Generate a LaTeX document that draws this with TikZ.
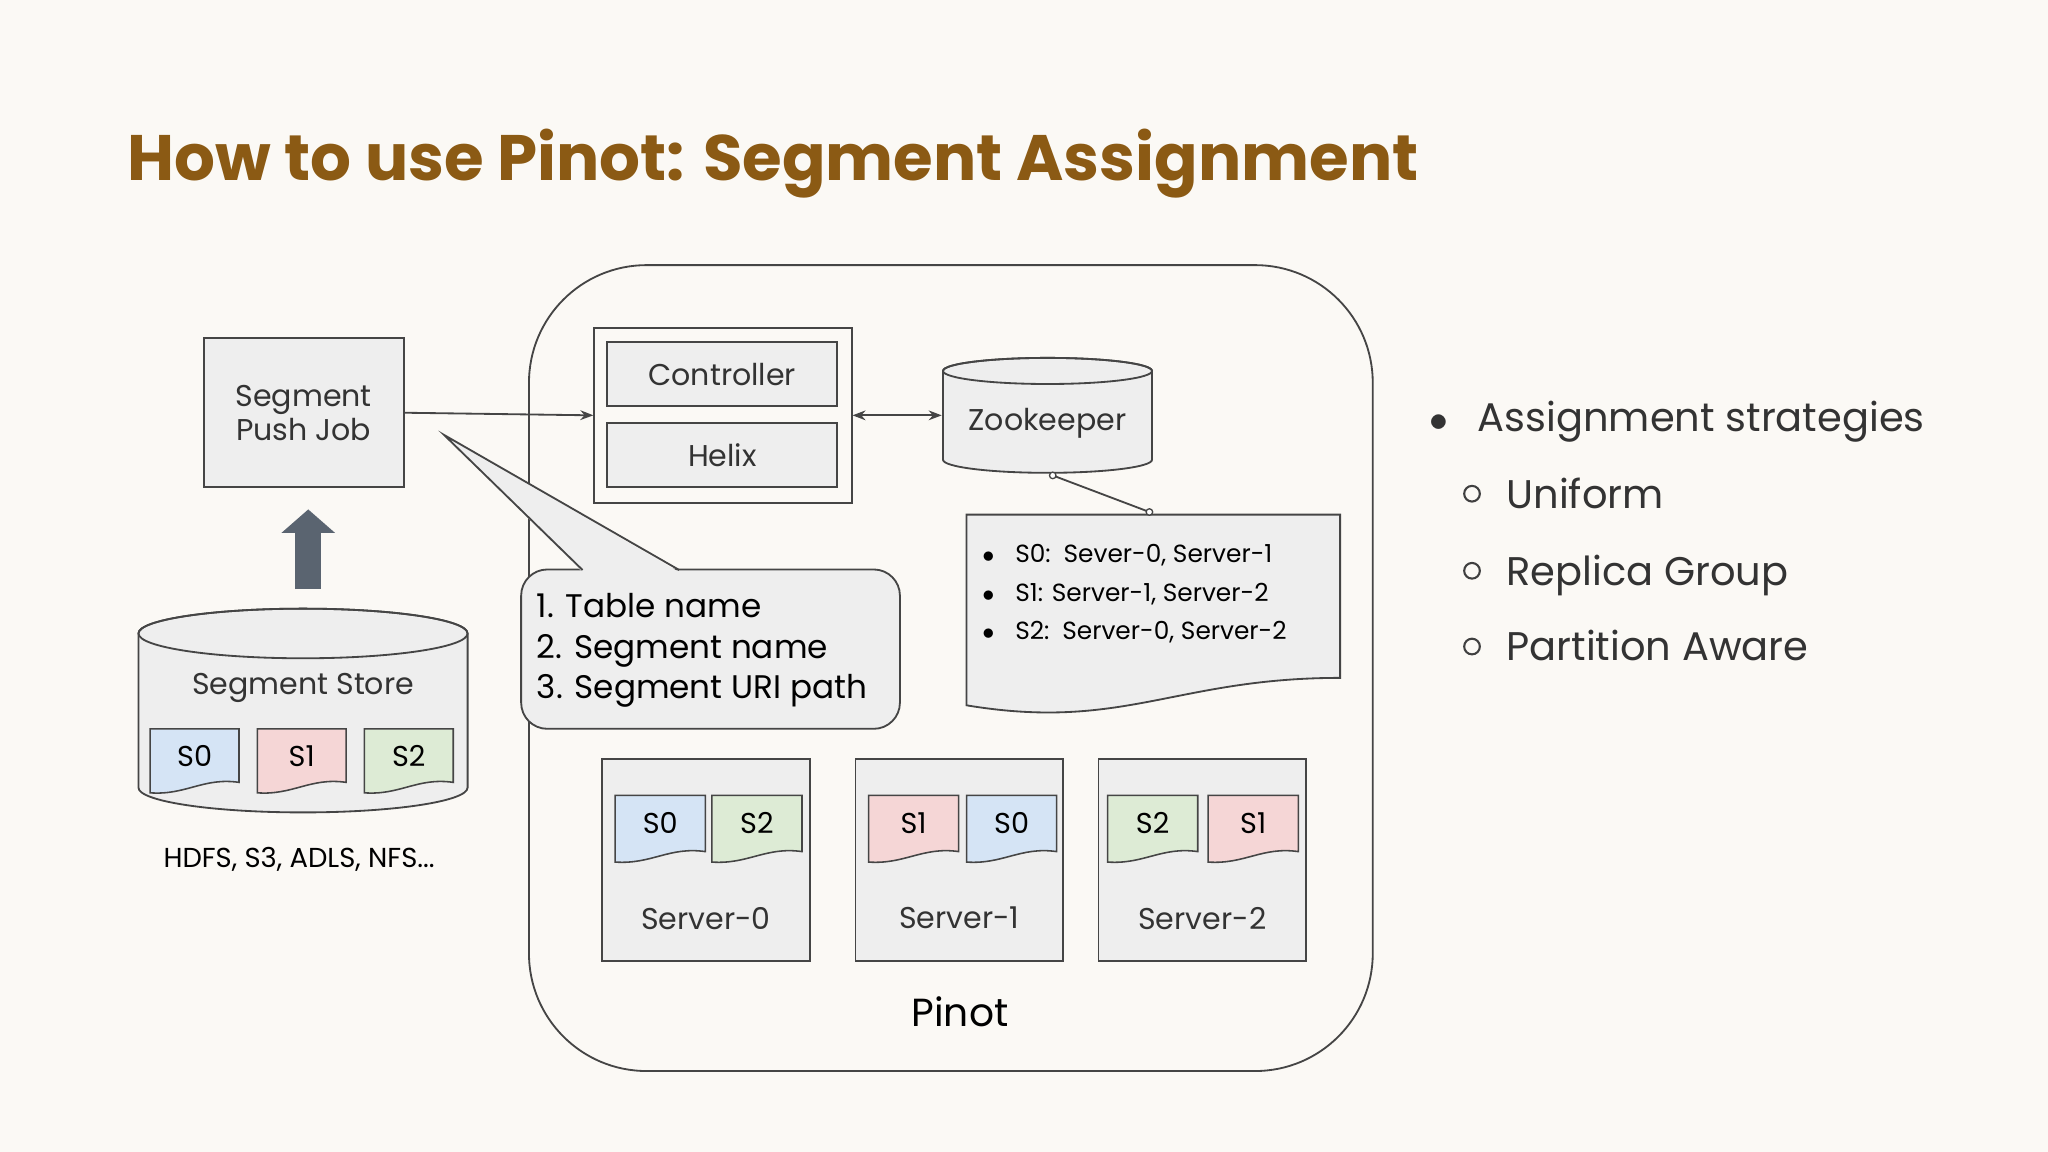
\documentclass[tikz,border=0pt]{standalone}
\usepackage{fontspec}
\setmainfont{Poppins}
\usetikzlibrary{arrows.meta,calc}
\definecolor{bg}{HTML}{FBF9F5}
\definecolor{boxf}{HTML}{EEEEEE}
\definecolor{ln}{HTML}{454545}
\definecolor{ttl}{HTML}{8B5A14}
\definecolor{cb}{HTML}{D5E4F5}
\definecolor{cp}{HTML}{F5D6D6}
\definecolor{cg}{HTML}{DDEBD5}
\definecolor{arr}{HTML}{5A6470}
\newcommand\mydoc[6]{% x1,y1,x2,y2,color,label
  \draw[ln,fill=#5,line width=0.6pt] (#1,#2) -- (#3,#2) -- (#3,#4-8) .. controls ($(#1,#4)!0.6!(#3,#4)+(0,-12)$) and ($(#1,#4)!0.4!(#3,#4)+(0,2)$) .. (#1,#4) -- cycle;
  \node[font=\fontsize{11}{12}\selectfont] at ($(#1,#2)!0.5!(#3,#2)+(0,21)$) {#6};}
\begin{document}
\begin{tikzpicture}[x=0.5pt,y=-0.5pt,
  box/.style={draw=ln,fill=boxf,line width=0.7pt},
  t/.style={font=\fontsize{11.5}{14}\selectfont,text=black!80}]
\useasboundingbox[fill=bg] (0,0) rectangle (1568,882);
\node[anchor=base west,inner sep=0pt,font=\fontsize{24.6}{30}\bfseries\selectfont,text=ttl] (title) at (97,138) {How to use Pinot: Segment Assignment};
% Pinot container
\draw[ln,line width=0.7pt,rounded corners=45pt] (405,203) rectangle (1051,820);
\node[font=\fontsize{15}{18}\selectfont] (pinot) at (735,775) {Pinot};
% push job
\node[box,minimum width=76.5pt,minimum height=57pt,t,align=center] (push) at (232.5,316) {Segment\\[-1pt]Push Job};
% store cylinder
\draw[ln,fill=boxf,line width=0.7pt] (106,485) -- (106,603) arc[start angle=180,end angle=0,x radius=126,y radius=19] -- (358,485) arc[start angle=0,end angle=-180,x radius=126,y radius=19] -- cycle;
\draw[ln,line width=0.7pt] (232,485) ellipse[x radius=126,y radius=19];
\node[t] (store) at (232,527) {Segment Store};
\mydoc{115}{558}{183}{607}{cb}{S0}
\mydoc{197}{558}{265}{607}{cp}{S1}
\mydoc{279}{558}{347}{607}{cg}{S2}
\node[font=\fontsize{10.5}{12}\selectfont] (hdfs) at (229,658) {HDFS, S3, ADLS, NFS...};
\coordinate (up0) at (236,451); \coordinate (up1) at (236,390);
\draw[-{Triangle[width=20pt,length=9pt]},line width=10pt,draw=arr,color=arr] (up0) -- (up1);
% controller/helix
\node[draw=ln,fill=bg,line width=0.7pt,minimum width=98.5pt,minimum height=67pt] (ch) at (553.5,318) {};
\node[box,minimum width=88pt,minimum height=24.5pt,t] (ctrl) at (553,286.5) {Controller};
\node[box,minimum width=88pt,minimum height=24.5pt,t] (helix) at (553,348.5) {Helix};
\draw[ln,-{Stealth[length=5pt]},line width=0.7pt] (push.east) -- (ch.west);
% zookeeper
\draw[ln,fill=boxf,line width=0.7pt] (722,284) -- (722,352) arc[start angle=180,end angle=0,x radius=80,y radius=10] -- (882,284) arc[start angle=0,end angle=-180,x radius=80,y radius=10] -- cycle;
\draw[ln,line width=0.7pt] (802,284) ellipse[x radius=80,y radius=10];
\node[t] (zk) at (802,324) {Zookeeper};
\coordinate (zkw) at (721,318);
\draw[ln,{Stealth[length=5pt]}-{Stealth[length=5pt]},line width=0.7pt] (ch.east) -- (zkw);
% note doc
\draw[ln,fill=boxf,line width=0.7pt] (740,394) -- (1026,394) -- (1026,519) .. controls (900,519) and (860,560) .. (740,540) -- cycle;
\coordinate (l0) at (806,364); \coordinate (l1) at (880,392);
\draw[ln,line width=0.7pt] (l0) -- (l1);
\draw[ln,fill=white,line width=0.5pt] (l0) circle (2.5) (l1) circle (2.5);
\begin{scope}[font=\fontsize{9.5}{11}\selectfont]
\node[anchor=west] (n1) at (745,425) {$\bullet$\hspace{8pt}S0:\, Sever-0, Server-1};
\node[anchor=west] (n2) at (745,455) {$\bullet$\hspace{8pt}S1: Server-1, Server-2};
\node[anchor=west] (n3) at (745,484) {$\bullet$\hspace{8pt}S2:\, Server-0, Server-2};
\end{scope}
% callout
\draw[ln,fill=boxf,line width=0.7pt,rounded corners=10pt] (399,436) rectangle (689,558);
\fill[boxf] (446,438) -- (340,333) -- (520,438) -- cycle;
\draw[ln,line width=0.7pt] (446,436.4) -- (340,333) -- (520,436.4);
\node[anchor=west,align=left,font=\fontsize{12.5}{15.5}\selectfont] (call) at (404,498) {1. Table name\\2. Segment name\\3. Segment URI path};
% servers
\node[box,minimum width=79.5pt,minimum height=77.5pt] (s0) at (540.5,658.5) {};
\node[box,minimum width=79.5pt,minimum height=77.5pt] (s1) at (734.5,658.5) {};
\node[box,minimum width=79.5pt,minimum height=77.5pt] (s2) at (920.5,658.5) {};
\node[t] at (540.5,703) {Server-0};
\node[t] at (734.5,703) {Server-1};
\node[t] at (920.5,703) {Server-2};
\mydoc{471}{609}{540}{660}{cb}{S0}
\mydoc{545}{609}{614}{660}{cg}{S2}
\mydoc{665}{609}{734}{660}{cp}{S1}
\mydoc{740}{609}{809}{660}{cb}{S0}
\mydoc{848}{609}{917}{660}{cg}{S2}
\mydoc{925}{609}{994}{660}{cp}{S1}
% right bullets
\begin{scope}[font=\fontsize{15.3}{19}\selectfont,text=black!80]
\node[anchor=base west,inner sep=0pt] (b0) at (1094,330) {$\bullet$};
\node[anchor=base west,inner sep=0pt] (r0) at (1131,330) {Assignment strategies};
\node[anchor=base west,inner sep=0pt] (r1) at (1153,389) {Uniform};
\node[anchor=base west,inner sep=0pt] (r2) at (1153,448) {Replica Group};
\node[anchor=base west,inner sep=0pt] (r3) at (1153,506) {Partition Aware};
\end{scope}
\foreach \y in {378,437,495} \draw[black!75,line width=0.8pt] (1127,\y) circle (6);
\end{tikzpicture}
\end{document}
